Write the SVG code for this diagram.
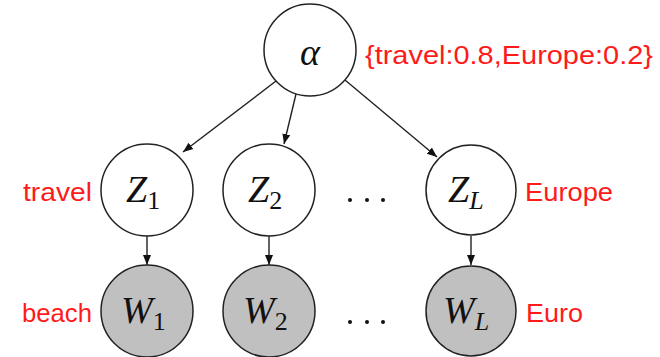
<svg xmlns="http://www.w3.org/2000/svg" width="660" height="357" viewBox="0 0 660 357">
<style>
.n{fill:#fff;stroke:#222;stroke-width:1.5}
.o{fill:#c0c0c0;stroke:#222;stroke-width:1.5}
.m{font-family:"Liberation Serif","DejaVu Serif",serif;font-style:italic;font-size:38px;fill:#111}
.s{font-family:"Liberation Serif","DejaVu Serif",serif;font-style:normal;font-size:26px;fill:#111}
.si{font-family:"Liberation Serif","DejaVu Serif",serif;font-style:italic;font-size:26px;fill:#111}
.r{font-family:"Liberation Sans","DejaVu Sans",sans-serif;font-size:25px;fill:#ff1a1a}
.e{stroke:#222;stroke-width:1.4;fill:none;marker-end:url(#a)}
.d{fill:#111}
</style>
<defs>
<marker id="a" viewBox="0 0 10 10" refX="10" refY="5" markerWidth="10" markerHeight="10" markerUnits="userSpaceOnUse" orient="auto">
<path d="M0,1 L10,5 L0,9 z" fill="#111"/>
</marker>
</defs>
<rect width="660" height="357" fill="#fff"/>
<g id="connectors">
<line class="e" x1="276" y1="81" x2="183" y2="152"/>
<line class="e" x1="296" y1="94" x2="284" y2="144"/>
<line class="e" x1="345" y1="80" x2="437" y2="157"/>
<line class="e" x1="147" y1="236" x2="147" y2="265"/>
<line class="e" x1="269" y1="236" x2="269" y2="265"/>
<line class="e" x1="471" y1="236" x2="471" y2="265"/>
</g>
<g id="alpha">
<circle class="n" cx="310" cy="50" r="46"/>
<text class="m" x="310" y="65" text-anchor="middle">α</text>
<text class="r" x="365" y="64" textLength="288" lengthAdjust="spacingAndGlyphs">{travel:0.8,Europe:0.2}</text>
</g>
<g id="Z1">
<circle class="n" cx="147" cy="190" r="46"/>
<text x="126" y="202"><tspan class="m">Z</tspan><tspan class="s" dy="7">1</tspan></text>
<text class="r" x="23" y="201" textLength="69" lengthAdjust="spacingAndGlyphs">travel</text>
</g>
<g id="Z2">
<circle class="n" cx="269" cy="190" r="46"/>
<text x="248" y="202"><tspan class="m">Z</tspan><tspan class="s" dy="7">2</tspan></text>
</g>
<g id="ZL">
<circle class="n" cx="471" cy="190" r="45"/>
<text x="448" y="202"><tspan class="m">Z</tspan><tspan class="si" dy="7">L</tspan></text>
<text class="r" x="525" y="201" textLength="88" lengthAdjust="spacingAndGlyphs">Europe</text>
</g>
<g id="W1">
<circle class="o" cx="147" cy="311" r="46"/>
<text x="121" y="323"><tspan class="m">W</tspan><tspan class="s" dy="7">1</tspan></text>
<text class="r" x="22" y="322" textLength="70" lengthAdjust="spacingAndGlyphs">beach</text>
</g>
<g id="W2">
<circle class="o" cx="269" cy="311" r="46"/>
<text x="243" y="323"><tspan class="m">W</tspan><tspan class="s" dy="7">2</tspan></text>
</g>
<g id="WL">
<circle class="o" cx="471" cy="311" r="45"/>
<text x="443" y="323"><tspan class="m">W</tspan><tspan class="si" dy="7">L</tspan></text>
<text class="r" x="526" y="322" textLength="57" lengthAdjust="spacingAndGlyphs">Euro</text>
</g>
<g id="dots">
<circle class="d" cx="350" cy="200" r="2"/><circle class="d" cx="367" cy="200" r="2"/><circle class="d" cx="383" cy="200" r="2"/>
<circle class="d" cx="350" cy="322" r="2"/><circle class="d" cx="367" cy="322" r="2"/><circle class="d" cx="383" cy="322" r="2"/>
</g>
</svg>
